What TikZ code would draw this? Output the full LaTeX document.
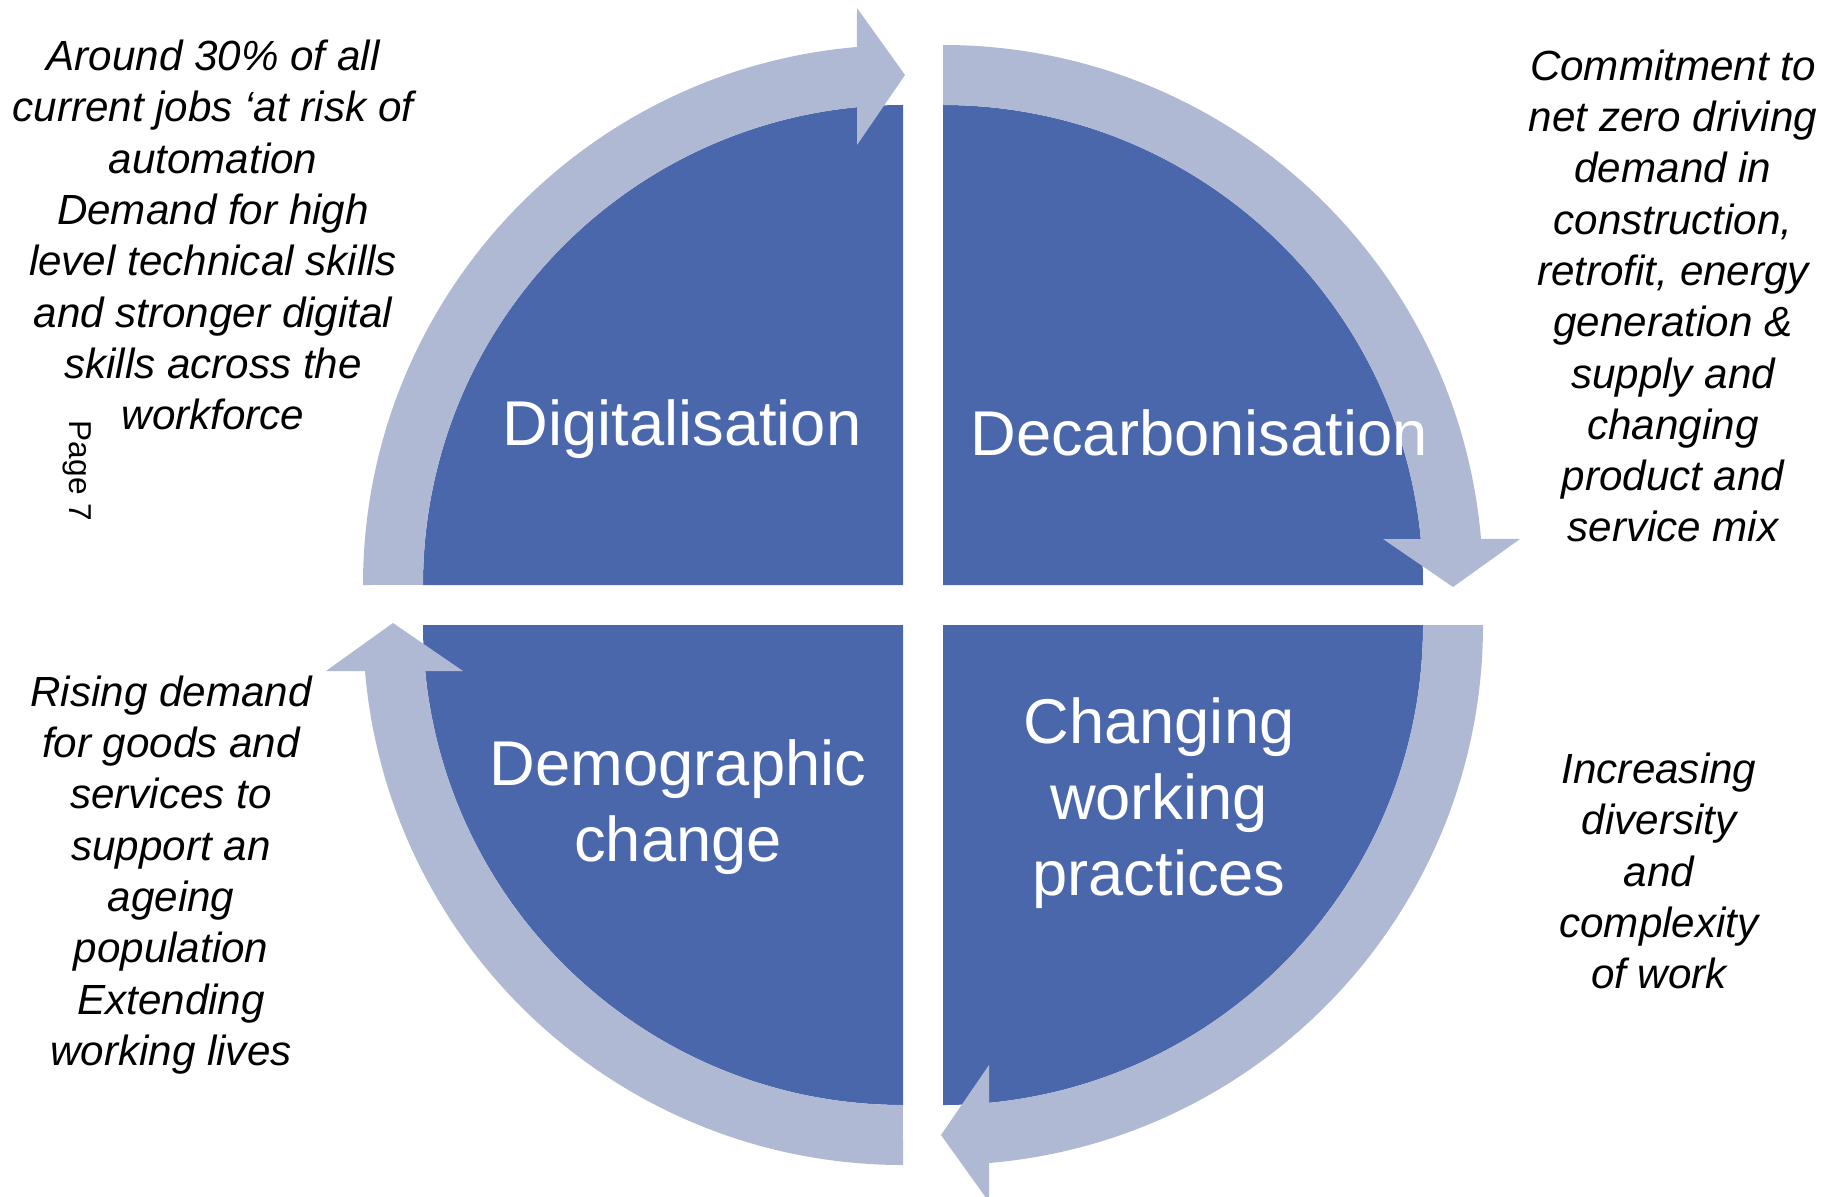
\documentclass[tikz,border=0pt]{standalone}
\usepackage{fontspec}
\setmainfont{Liberation Sans}
\definecolor{quadblue}{RGB}{74,103,172}
\definecolor{ringblue}{RGB}{176,185,212}

\begin{document}
\begin{tikzpicture}[x=0.1mm,y=0.1mm,
  quad/.style={fill=quadblue},
  ring/.style={fill=ringblue},
  title/.style={text=white,align=center,font=\fontsize{18}{21.6}\selectfont},
  note/.style={align=center,font=\fontsize{12}{14.6}\selectfont\itshape}]
\useasboundingbox (0,0) rectangle (1826,1196);
% four quarters
\fill[quad] (903,611) -- ++(-480,0) arc[start angle=180,end angle=90,radius=480] -- cycle;
\fill[quad] (943,611) -- ++(0,480) arc[start angle=90,end angle=0,radius=480] -- cycle;
\fill[quad] (943,571) -- ++(480,0) arc[start angle=0,end angle=-90,radius=480] -- cycle;
\fill[quad] (903,571) -- ++(0,-480) arc[start angle=270,end angle=180,radius=480] -- cycle;
% curved arrows
\begin{scope}[shift={(903,611)}]
\fill[ring] (180:540) arc[start angle=180,end angle=94.9,radius=540] -- (-46,577) -- (2,510)
  -- (-46,440) -- (-46,477.8) arc[start angle=95.5,end angle=180,radius=480] -- cycle;
\end{scope}
\begin{scope}[shift={(943,611)}]
\fill[ring] (90:540) arc[start angle=90,end angle=4.9,radius=540] -- (577,46) -- (510,-2)
  -- (440,46) -- (477.8,46) arc[start angle=5.5,end angle=90,radius=480] -- cycle;
\end{scope}
\begin{scope}[shift={(943,571)}]
\fill[ring] (0:540) arc[start angle=0,end angle=-85.1,radius=540] -- (46,-577) -- (-2,-510)
  -- (46,-440) -- (46,-477.8) arc[start angle=-84.5,end angle=0,radius=480] -- cycle;
\end{scope}
\begin{scope}[shift={(903,571)}]
\fill[ring] (270:540) arc[start angle=270,end angle=184.9,radius=540] -- (-577,-46) -- (-510,2)
  -- (-440,-46) -- (-477.8,-46) arc[start angle=185.5,end angle=270,radius=480] -- cycle;
\end{scope}
% titles
\node[title] (digital) at (682,767) {Digitalisation};
\node[title] (decarb) at (1199,763) {Decarbonisation};
\node[title] (demog) at (678,389) {Demographic\\change};
\node[title] (working) at (1159,393) {Changing\\working\\practices};
% notes
\node[note] (digitalnote) at (213,961) {Around 30\% of all\\current jobs ‘at risk of\\automation\\Demand for high\\level technical skills\\and stronger digital\\skills across the\\workforce};
\node[note] (decarbnote) at (1673,900) {Commitment to\\net zero driving\\demand in\\construction,\\retrofit, energy\\generation \&\\supply and\\changing\\product and\\service mix};
\node[note] (demognote) at (171,321) {Rising demand\\for goods and\\services to\\support an\\ageing\\population\\Extending\\working lives};
\node[note] (workingnote) at (1659,325) {Increasing\\diversity\\and\\complexity\\of work};
\node[rotate=-90,font=\fontsize{9}{11}\selectfont] (page) at (77,725) {Page 7};
\end{tikzpicture}
\end{document}
